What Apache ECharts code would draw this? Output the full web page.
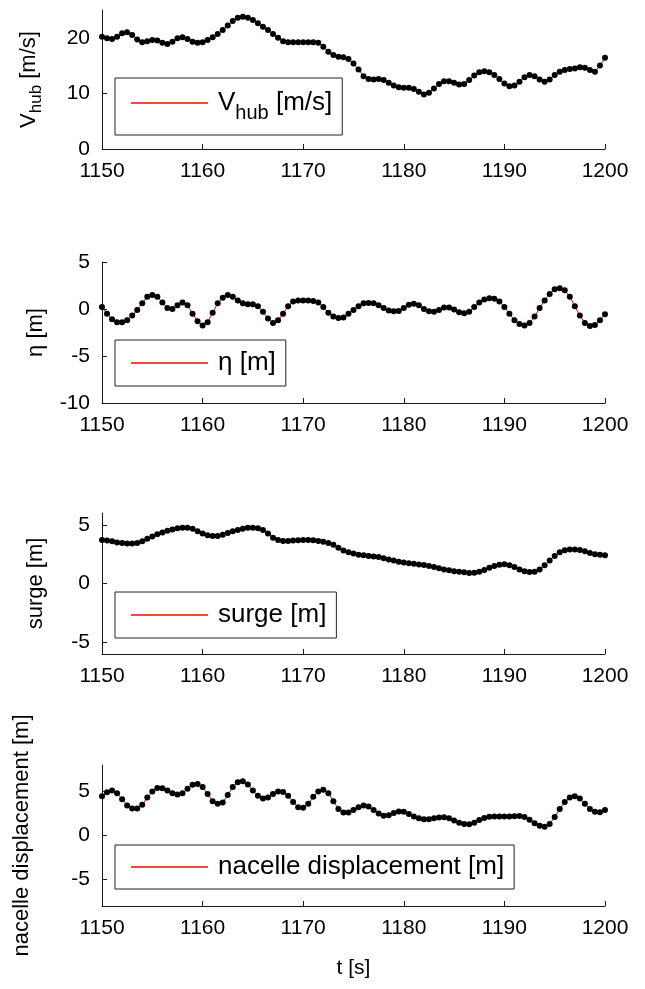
<!DOCTYPE html>
<html>
<head>
<meta charset="utf-8">
<script src="https://cdn.jsdelivr.net/npm/echarts@6/dist/echarts.min.js"></script>
<style>
html,body{margin:0;padding:0;background:#fff;}
#chart{width:645px;height:989px;}
</style>
</head>
<body>
<div id="chart"></div>
<script>
// time samples [s]
const time = [1150,1150.5,1151,1151.5,1152,1152.5,1153,1153.5,1154,1154.5,
1155,1155.5,1156,1156.5,1157,1157.5,1158,1158.5,1159,1159.5,
1160,1160.5,1161,1161.5,1162,1162.5,1163,1163.5,1164,1164.5,
1165,1165.5,1166,1166.5,1167,1167.5,1168,1168.5,1169,1169.5,
1170,1170.5,1171,1171.5,1172,1172.5,1173,1173.5,1174,1174.5,
1175,1175.5,1176,1176.5,1177,1177.5,1178,1178.5,1179,1179.5,
1180,1180.5,1181,1181.5,1182,1182.5,1183,1183.5,1184,1184.5,
1185,1185.5,1186,1186.5,1187,1187.5,1188,1188.5,1189,1189.5,
1190,1190.5,1191,1191.5,1192,1192.5,1193,1193.5,1194,1194.5,
1195,1195.5,1196,1196.5,1197,1197.5,1198,1198.5,1199,1199.5,1200];

// hub wind speed [m/s]
const vhub = [20.2,19.9,19.8,20.2,20.8,21.0,20.5,19.7,19.2,19.4,
19.6,19.5,19.1,18.9,19.3,19.9,20.1,19.8,19.3,19.1,
19.2,19.6,20.1,20.7,21.4,22.2,23.0,23.6,23.8,23.6,
23.2,22.6,22.0,21.4,20.7,20.0,19.4,19.2,19.2,19.2,
19.2,19.2,19.2,19.1,18.4,17.5,16.9,16.6,16.5,16.2,
15.4,14.3,13.1,12.6,12.5,12.6,12.4,11.9,11.4,11.1,
11.0,11.0,10.8,10.3,9.8,10.1,10.9,11.7,12.2,12.2,
11.9,11.6,11.7,12.4,13.2,13.8,14.0,13.8,13.3,12.6,
11.8,11.3,11.4,12.1,12.9,13.3,13.1,12.5,12.1,12.5,
13.3,13.9,14.2,14.4,14.5,14.7,14.6,14.2,13.9,15.0,16.4];

// wave elevation [m]
const eta = [0.2,-0.5,-1.1,-1.4,-1.4,-1.2,-0.7,-0.1,0.6,1.3,
1.5,1.3,0.7,0.1,0.0,0.4,0.7,0.4,-0.5,-1.3,
-1.75,-1.4,-0.4,0.6,1.2,1.5,1.3,0.9,0.6,0.5,
0.5,0.3,-0.3,-1.0,-1.5,-1.2,-0.5,0.3,0.8,0.9,
0.9,0.9,0.85,0.7,0.2,-0.4,-0.8,-0.95,-0.9,-0.5,
-0.1,0.3,0.6,0.65,0.6,0.4,0.1,-0.15,-0.25,-0.2,
0.1,0.45,0.55,0.4,0.0,-0.25,-0.3,-0.1,0.15,0.15,
-0.05,-0.35,-0.45,-0.3,0.2,0.7,1.0,1.15,1.1,0.8,
0.2,-0.5,-1.2,-1.6,-1.75,-1.5,-0.8,0.1,0.9,1.6,
2.1,2.2,2.0,1.3,0.3,-0.7,-1.5,-1.8,-1.7,-1.2,-0.55];

// surge [m]
const surge = [3.7,3.65,3.6,3.5,3.45,3.4,3.4,3.45,3.6,3.8,
4.0,4.2,4.35,4.5,4.6,4.7,4.75,4.75,4.65,4.45,
4.25,4.1,4.05,4.05,4.15,4.3,4.45,4.55,4.65,4.75,
4.75,4.7,4.55,4.25,3.9,3.7,3.62,3.62,3.65,3.68,
3.7,3.7,3.68,3.62,3.55,3.45,3.3,3.05,2.8,2.65,
2.55,2.45,2.4,2.35,2.3,2.25,2.15,2.05,1.95,1.85,
1.78,1.72,1.68,1.62,1.57,1.5,1.4,1.3,1.2,1.13,
1.05,1.0,0.95,0.9,0.92,1.0,1.15,1.35,1.5,1.6,
1.63,1.55,1.4,1.2,1.05,0.98,1.0,1.2,1.55,1.95,
2.35,2.65,2.82,2.9,2.9,2.85,2.75,2.6,2.5,2.45,2.4];

// nacelle displacement [m]
const nacelle = [4.45,4.9,5.1,4.8,4.1,3.4,3.05,3.05,3.5,4.3,
5.0,5.4,5.35,5.1,4.8,4.65,4.8,5.3,5.75,5.85,
5.5,4.7,3.9,3.6,3.75,4.6,5.5,6.05,6.15,5.8,
5.1,4.5,4.2,4.3,4.7,5.0,4.95,4.5,3.8,3.2,
3.15,3.6,4.4,5.0,5.2,4.8,3.9,3.0,2.6,2.6,
2.9,3.2,3.4,3.3,2.9,2.5,2.25,2.3,2.55,2.72,
2.7,2.45,2.15,1.95,1.85,1.85,1.95,2.05,2.08,1.95,
1.7,1.45,1.3,1.28,1.45,1.75,2.0,2.12,2.15,2.15,
2.15,2.15,2.18,2.2,2.1,1.8,1.4,1.1,1.0,1.3,
2.1,3.0,3.8,4.3,4.45,4.2,3.6,3.0,2.7,2.65,2.9];

const xTicks = [1150,1160,1170,1180,1190,1200];
const yTicks1 = [0,10,20];
const yTicks2 = [-10,-5,0,5];
const yTicks3 = [-5,0,5];
const yTicks4 = [-5,0,5];

const seriesNames = ['Vhub','eta','surge','nacelle'];
const legendLabels = {
  Vhub: '{m|V}{s|hub}{m| [m/s]}',
  eta: '{m|η [m]}',
  surge: '{m|surge [m]}',
  nacelle: '{m|nacelle displacement [m]}'
};

const FONT = "'Liberation Sans', Arial, Helvetica, sans-serif";
const chart = echarts.init(document.getElementById('chart'), null, {renderer: 'canvas'});

const allData = [vhub, eta, surge, nacelle];
const yRanges = [[0,25],[-10,5],[-6,6],[-8,8]];
const yTickSets = [yTicks1, yTicks2, yTicks3, yTicks4];
const gridTops = [10, 262, 513, 765];
const gridHeights = [139, 141, 141, 141];
const yNames = ['{m|V}{s|hub}{m| [m/s]}', '{m|η [m]}', '{m|surge [m]}', '{m|nacelle displacement [m]}'];
const yNameGaps = [57, 50, 50, 64];
const legendTops = [78, 340, 592, 845];
const legendPadV = [12, 10, 10, 9];

const grids = [], xAxes = [], yAxes = [], series = [], legends = [];
for (let i = 0; i < 4; i++) {
  grids.push({left: 102, right: 40, top: gridTops[i], height: gridHeights[i]});
  xAxes.push({
    type: 'value', gridIndex: i, min: 1150, max: 1200, interval: 10,
    name: i === 3 ? 't [s]' : '', nameLocation: 'middle', nameGap: 52,
    nameTextStyle: {fontFamily: FONT, fontSize: 21, color: '#000'},
    axisLine: {show: true, onZero: false, lineStyle: {color: '#1a1a1a', width: 1}},
    axisTick: {show: true, inside: true, length: 5, lineStyle: {color: '#1a1a1a'}, customValues: xTicks},
    axisLabel: {fontFamily: FONT, fontSize: 21, color: '#000', margin: 12, customValues: xTicks,
      formatter: v => String(v)},
    splitLine: {show: false}
  });
  yAxes.push({
    type: 'value', gridIndex: i, min: yRanges[i][0], max: yRanges[i][1],
    name: yNames[i], nameLocation: 'middle', nameRotate: 90, nameGap: yNameGaps[i],
    nameTextStyle: {
      fontFamily: FONT, color: '#000',
      rich: {
        m: {fontFamily: FONT, fontSize: 22, color: '#000', lineHeight: 32},
        s: {fontFamily: FONT, fontSize: 17, color: '#000', lineHeight: 33, verticalAlign: 'bottom'}
      }
    },
    axisLine: {show: true, onZero: false, lineStyle: {color: '#1a1a1a', width: 1}},
    axisTick: {show: true, inside: true, length: 5, lineStyle: {color: '#1a1a1a'}, customValues: yTickSets[i]},
    axisLabel: {fontFamily: FONT, fontSize: 21, color: '#000', margin: 12, customValues: yTickSets[i],
      formatter: v => String(v)},
    splitLine: {show: false}
  });
  const pts = time.map((tt, k) => [tt, allData[i][k]]);
  series.push({
    type: 'line', name: seriesNames[i], xAxisIndex: i, yAxisIndex: i,
    data: pts, symbol: 'none', color: '#ff0000',
    lineStyle: {color: '#ff0000', width: 1}, animation: false, silent: true, z: 2
  });
  series.push({
    type: 'scatter', name: seriesNames[i] + '_pts', xAxisIndex: i, yAxisIndex: i,
    data: pts, symbol: 'circle', symbolSize: 6,
    itemStyle: {color: '#000', opacity: 1}, animation: false, silent: true, z: 4
  });
  legends.push({
    data: [{name: seriesNames[i], icon: 'rect'}], left: 115, top: legendTops[i], orient: 'vertical',
    backgroundColor: '#fff', borderColor: '#222', borderWidth: 1,
    padding: [legendPadV[i], 10, legendPadV[i], 16],
    itemWidth: 77, itemHeight: 2, itemGap: 0,
    itemStyle: {color: '#ff4444', borderWidth: 0},
    formatter: name => legendLabels[name],
    selectedMode: false,
    textStyle: {
      fontFamily: FONT, color: '#000', padding: [0, 0, 0, 5],
      rich: {
        m: {fontFamily: FONT, fontSize: 26, color: '#000', lineHeight: 32},
        s: {fontFamily: FONT, fontSize: 20, color: '#000', lineHeight: 40, verticalAlign: 'bottom'}
      }
    }
  });
}

chart.setOption({
  animation: false,
  backgroundColor: '#fff',
  grid: grids, xAxis: xAxes, yAxis: yAxes, series: series, legend: legends
});
</script>
</body>
</html>
